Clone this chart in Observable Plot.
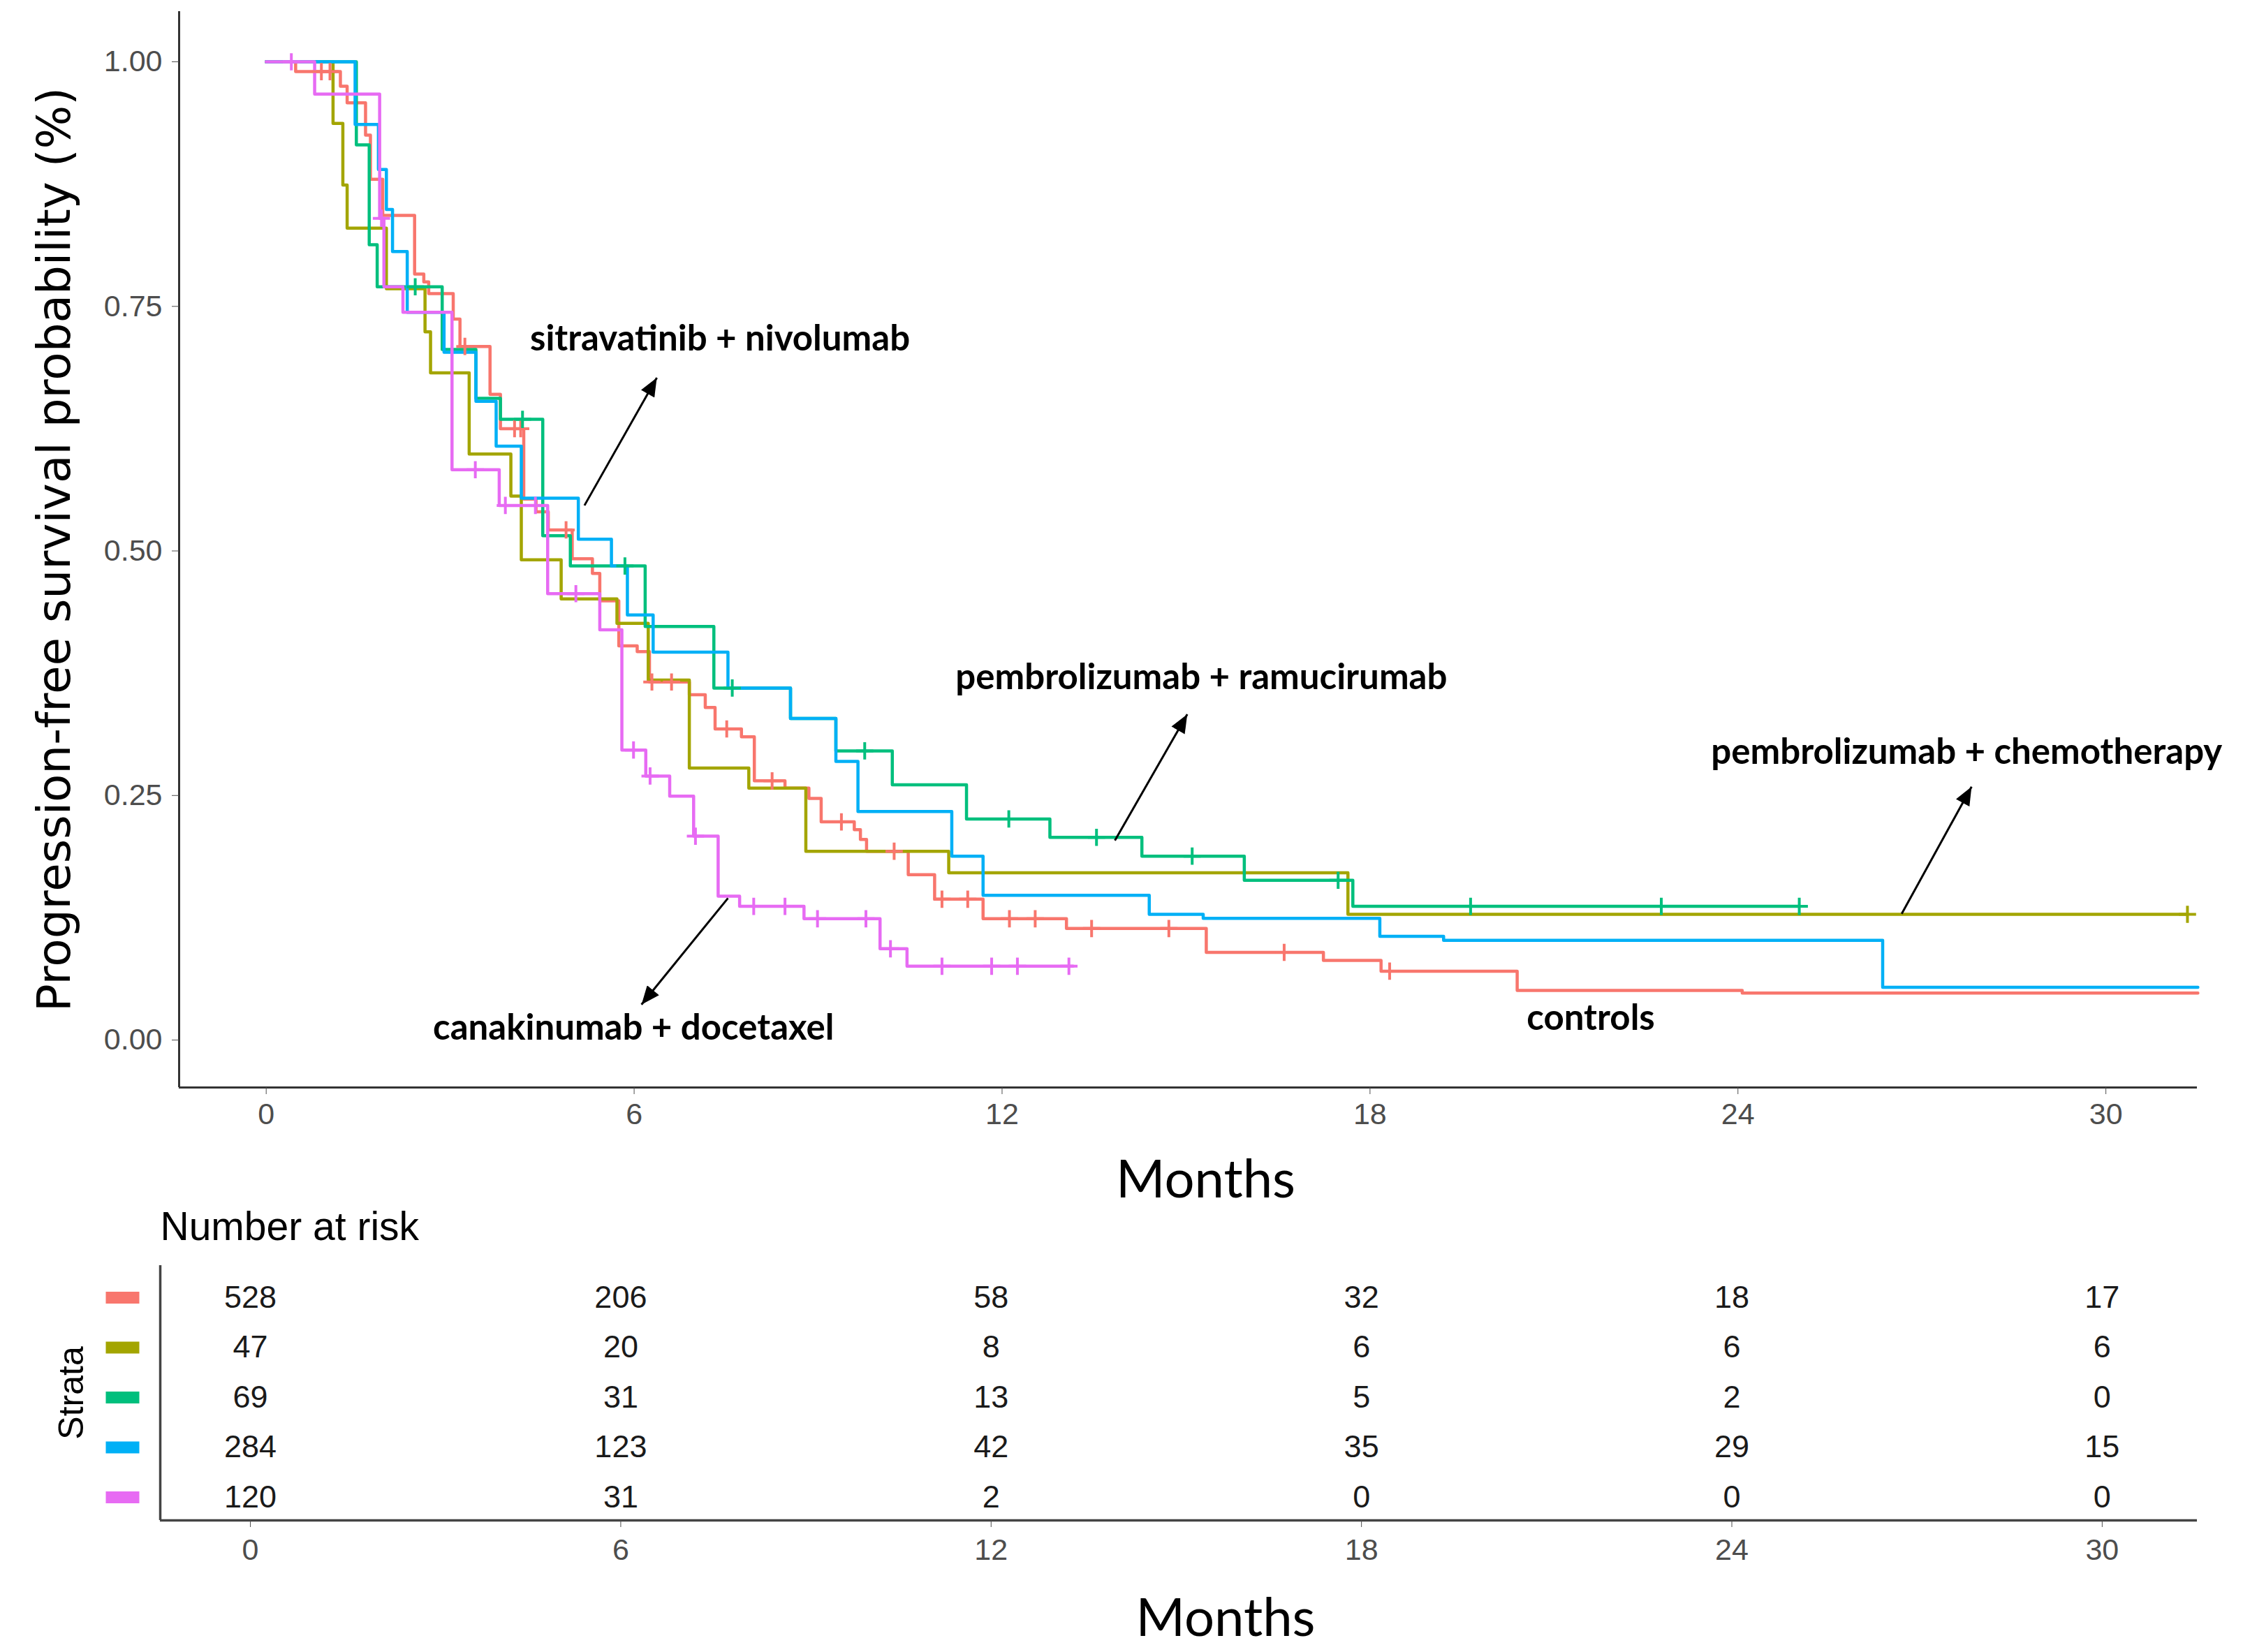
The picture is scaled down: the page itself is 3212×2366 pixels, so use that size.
<!DOCTYPE html>
<html><head><meta charset="utf-8">
<script src="https://cdn.jsdelivr.net/npm/d3@7"></script>
<script src="https://cdn.jsdelivr.net/npm/@observablehq/plot@0.6"></script>
<style>
html,body{margin:0;padding:0;background:#fff;}
#wrap{position:relative;width:3212px;height:2366px;overflow:hidden;background:#fff;}
#main{position:absolute;left:0;top:0;}
#risk{position:absolute;left:0;top:1700px;}
</style></head>
<body><div id="wrap"><div id="main"></div><div id="risk"></div></div>
<script>
// ---------- data ----------
const strata = ["controls", "pembrolizumab + chemotherapy", "pembrolizumab + ramucirumab", "sitravatinib + nivolumab", "canakinumab + docetaxel"];
const strataColors = ["#F8766D", "#A3A500", "#00BF7D", "#00B0F6", "#E76BF3"];

const controlsTime = [0, 0.48, 1.21, 1.32, 1.62, 1.7, 1.9, 2.42, 2.57, 2.65, 3.05, 3.16, 3.65, 3.82, 4.2, 4.4, 4.6, 4.99, 5.32, 5.44, 5.75, 6.05, 6.25, 6.9, 7.16, 7.32, 7.75, 7.96, 8.46, 8.85, 9.05, 9.59, 9.69, 9.79, 10.47, 10.9, 11.69, 13.05, 15.33, 17.24, 18.18, 20.4, 24.07, 31.5];
const controlsSurv = [1, 0.99, 0.975, 0.958, 0.925, 0.88, 0.843, 0.783, 0.775, 0.763, 0.737, 0.709, 0.66, 0.625, 0.553, 0.54, 0.5215, 0.492, 0.477, 0.449, 0.403, 0.397, 0.366, 0.353, 0.34, 0.318, 0.31, 0.265, 0.2575, 0.247, 0.223, 0.215, 0.205, 0.193, 0.169, 0.144, 0.124, 0.114, 0.0896, 0.0814, 0.0704, 0.0507, 0.048, 0.048];
const controlsCensor = [0.9, 1.04, 3.24, 4.05, 4.15, 4.89, 6.29, 6.61, 7.51, 8.25, 9.38, 10.24, 11.02, 11.44, 12.12, 12.54, 13.46, 14.72, 16.6, 18.32];

const chemoTime = [0, 1.09, 1.25, 1.32, 1.96, 2.59, 2.68, 3.31, 3.99, 4.16, 4.81, 5.72, 6.23, 6.9, 7.87, 8.8, 11.13, 17.64, 31.33];
const chemoSurv = [1, 0.937, 0.874, 0.83, 0.768, 0.724, 0.682, 0.599, 0.556, 0.491, 0.451, 0.426, 0.368, 0.278, 0.2575, 0.193, 0.171, 0.1285, 0.1285];
const chemoCensor = [31.33];

const ramuTime = [0, 1.47, 1.68, 1.81, 2.87, 3.42, 3.82, 4.51, 4.96, 6.18, 7.3, 8.55, 9.29, 10.21, 11.42, 12.78, 14.28, 15.95, 17.72, 25.0];
const ramuSurv = [1, 0.915, 0.813, 0.77, 0.706, 0.656, 0.6345, 0.5156, 0.4846, 0.4227, 0.3598, 0.3288, 0.2956, 0.261, 0.226, 0.2072, 0.188, 0.1633, 0.1367, 0.1367];
const ramuCensor = [2.43, 4.18, 5.85, 7.6, 9.76, 12.11, 13.54, 15.1, 17.48, 19.64, 22.75, 25.0];

const sitraTime = [0, 1.45, 1.83, 1.96, 2.06, 2.3, 2.9, 3.42, 3.75, 4.16, 5.09, 5.63, 5.89, 6.31, 7.53, 8.55, 9.29, 9.65, 11.18, 11.69, 14.4, 15.28, 18.16, 19.2, 26.36, 31.5];
const sitraSurv = [1, 0.936, 0.89, 0.849, 0.806, 0.744, 0.703, 0.653, 0.607, 0.554, 0.512, 0.4846, 0.4346, 0.3966, 0.3598, 0.3288, 0.2848, 0.2336, 0.188, 0.148, 0.1285, 0.1244, 0.106, 0.102, 0.054, 0.054];
const sitraCensor = [];

const canaTime = [0, 0.79, 1.85, 1.92, 2.23, 3.03, 3.8, 4.59, 5.44, 5.8, 6.19, 6.58, 6.97, 7.37, 7.72, 8.77, 10.01, 10.45, 13.16];
const canaSurv = [1, 0.967, 0.84, 0.77, 0.744, 0.583, 0.5465, 0.4563, 0.4194, 0.2965, 0.2699, 0.2494, 0.2084, 0.147, 0.1367, 0.124, 0.0933, 0.0755, 0.0755];
const canaCensor = [0.41, 1.88, 3.41, 3.9, 4.39, 5.05, 5.99, 6.26, 7.0, 7.95, 8.46, 8.99, 9.78, 10.18, 11.02, 11.83, 12.25, 13.09];

const riskTimes = [0, 6, 12, 18, 24, 30];
const riskControls = [528, 206, 58, 32, 18, 17];
const riskChemo = [47, 20, 8, 6, 6, 6];
const riskRamu = [69, 31, 13, 5, 2, 0];
const riskSitra = [284, 123, 42, 35, 29, 15];
const riskCana = [120, 31, 2, 0, 0, 0];

const xTicks = [0, 6, 12, 18, 24, 30];
const yTicks = [0, 0.25, 0.5, 0.75, 1];

const annLabels = ["sitravatinib + nivolumab", "pembrolizumab + ramucirumab", "pembrolizumab + chemotherapy", "canakinumab + docetaxel", "controls"];
const annX = [7.40, 15.25, 27.73, 5.99, 21.6];
const annY = [0.7166, 0.37, 0.294, 0.012, 0.022];
const arrowFromX = [5.19, 13.84, 26.67, 7.53];
const arrowFromY = [0.5465, 0.204, 0.129, 0.145];
const arrowToX = [6.37, 15.02, 27.81, 6.12];
const arrowToY = [0.677, 0.333, 0.259, 0.0363];

// ---------- derived tables ----------
const curves = [
  {time: controlsTime, surv: controlsSurv, censor: controlsCensor},
  {time: chemoTime, surv: chemoSurv, censor: chemoCensor},
  {time: ramuTime, surv: ramuSurv, censor: ramuCensor},
  {time: sitraTime, surv: sitraSurv, censor: sitraCensor},
  {time: canaTime, surv: canaSurv, censor: canaCensor}
];
const riskCounts = [riskControls, riskChemo, riskRamu, riskSitra, riskCana];

const lineData = strata.flatMap((s, k) => curves[k].time.map((t, i) => ({strata: s, t, p: curves[k].surv[i]})));
function survAt(k, t) {
  const c = curves[k]; let v = c.surv[0];
  for (let i = 0; i < c.time.length; i++) if (c.time[i] <= t) v = c.surv[i];
  return v;
}
const censorData = strata.flatMap((s, k) => curves[k].censor.map(t => ({strata: s, t, p: survAt(k, t)})));
const annData = annLabels.map((l, i) => ({label: l, x: annX[i], y: annY[i]}));
const arrowData = arrowFromX.map((x, i) => ({x1: x, y1: arrowFromY[i], x2: arrowToX[i], y2: arrowToY[i]}));
const riskData = strata.flatMap((s, k) => riskTimes.map((t, j) => ({row: k, t, n: riskCounts[k][j]})));

const xDomain = [-1.42, 31.49];
const yDomain = [-0.0485, 1.0514];
const tDomain = [-1.46, 31.54];
const rowDomain = [4.462, -0.643];

const baseFont = "'Liberation Sans', Arial, sans-serif";

// ---------- main KM plot ----------
const mainH = 1745;
const main = Plot.plot({
  width: 3212, height: mainH,
  marginLeft: 256, marginRight: 66, marginTop: 16, marginBottom: mainH - 1557,
  style: {background: "transparent", fontFamily: baseFont, fontSize: "43px", color: "#4d4d4d", overflow: "visible"},
  x: {domain: xDomain},
  y: {domain: yDomain},
  color: {domain: strata, range: strataColors},
  marks: [
    Plot.line(lineData, {x: "t", y: "p", z: "strata", stroke: "strata", curve: "step-after", strokeWidth: 4.5}),
    Plot.dot(censorData, {x: "t", y: "p", stroke: "strata", symbol: "plus", r: 8, strokeWidth: 4}),
    Plot.ruleX([xDomain[0]], {stroke: "#333", strokeWidth: 3}),
    Plot.ruleY([yDomain[0]], {stroke: "#333", strokeWidth: 3}),
    Plot.axisX({ticks: xTicks, tickSize: 10, tickPadding: 12, label: null, fontSize: 43}),
    Plot.axisY({ticks: yTicks, tickFormat: d3.format(".2f"), tickSize: 10, tickPadding: 14, label: null, fontSize: 43}),
    Plot.link(arrowData, {x1: "x1", y1: "y1", x2: "x2", y2: "y2", stroke: "#000", strokeWidth: 3}),
    Plot.text(annData, {x: "x", y: "y", text: "label", fontFamily: "Lato", fontWeight: "bold", fontSize: 51, fill: "#000"}),
    Plot.text(["Months"], {frameAnchor: "bottom", textAnchor: "middle", lineAnchor: "middle", dx: 25, dy: 133, fontFamily: "Lato", fontSize: 76, fill: "#000"}),
    Plot.text(["Progression-free survival probability (%)"], {frameAnchor: "left", textAnchor: "middle", lineAnchor: "middle", dx: -178, rotate: -90, fontFamily: "'DejaVu Sans', Verdana, sans-serif", fontSize: 66, fill: "#000"})
  ]
});
document.getElementById("main").appendChild(main);

const svgm = d3.select(main);
svgm.append("defs").append("marker")
  .attr("id", "arrowHead").attr("viewBox", "0 0 12 10").attr("refX", 12).attr("refY", 5)
  .attr("markerUnits", "userSpaceOnUse").attr("markerWidth", 27).attr("markerHeight", 22).attr("orient", "auto")
  .append("path").attr("d", "M0,0L12,5L0,10Z").attr("fill", "#000");
svgm.selectAll('g[aria-label="link"] path').attr("marker-end", "url(#arrowHead)");

// ---------- risk table ----------
const riskH = 666;
const barSymbol = {draw(context) { context.rect(-24, -8.5, 48, 17); }};
const risk = Plot.plot({
  width: 3212, height: riskH,
  marginLeft: 229, marginRight: 66, marginTop: 112, marginBottom: 189,
  style: {background: "transparent", fontFamily: baseFont, fontSize: "43px", color: "#4d4d4d", overflow: "visible"},
  x: {domain: tDomain},
  y: {domain: rowDomain, axis: null},
  color: {domain: strata, range: strataColors},
  marks: [
    Plot.ruleX([tDomain[0]], {stroke: "#444", strokeWidth: 3.5}),
    Plot.ruleY([rowDomain[0]], {stroke: "#444", strokeWidth: 3.5}),
    Plot.axisX({ticks: xTicks, tickSize: 10, tickPadding: 16, label: null, fontSize: 43}),
    Plot.text(riskData, {x: "t", y: "row", text: "n", fontSize: 45, fill: "#1a1a1a"}),
    Plot.dot(strata, {y: (d, i) => i, frameAnchor: "left", dx: -54, symbol: barSymbol, fill: d => d, stroke: null}),
    Plot.text(["Number at risk"], {frameAnchor: "top-left", textAnchor: "start", lineAnchor: "middle", dy: -55, fontSize: 57, fill: "#000"}),
    Plot.text(["Strata"], {frameAnchor: "left", textAnchor: "middle", lineAnchor: "middle", dx: -127, rotate: -90, fontSize: 50, fill: "#000"}),
    Plot.text(["Months"], {frameAnchor: "bottom", textAnchor: "middle", lineAnchor: "middle", dx: 67, dy: 141, fontFamily: "Lato", fontSize: 76, fill: "#000"})
  ]
});
document.getElementById("risk").appendChild(risk);
</script>
</body></html>
